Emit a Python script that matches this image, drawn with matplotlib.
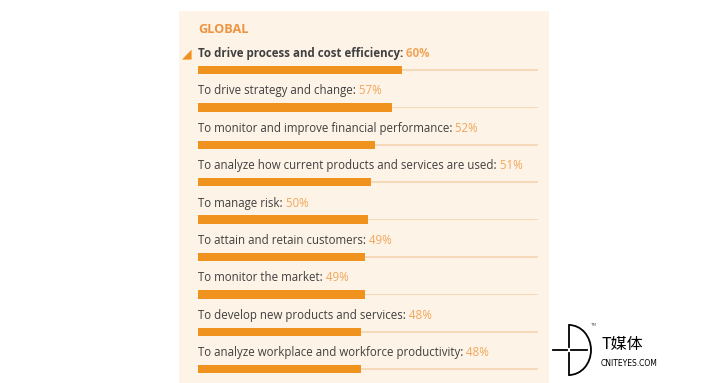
import matplotlib
matplotlib.use("Agg")
import matplotlib.pyplot as plt
from matplotlib.patches import Rectangle, Arc
from matplotlib.lines import Line2D

title = "GLOBAL"
categories = [
    "To drive process and cost efficiency:",
    "To drive strategy and change:",
    "To monitor and improve financial performance:",
    "To analyze how current products and services are used:",
    "To manage risk:",
    "To attain and retain customers:",
    "To monitor the market:",
    "To develop new products and services:",
    "To analyze workplace and workforce productivity:",
]
values = [60, 57, 52, 51, 50, 49, 49, 48, 48]

W, H = 702, 383
fig = plt.figure(figsize=(W / 100, H / 100), dpi=100)
fig.patch.set_facecolor("white")

ORANGE = "#F0921E"
PCT = "#F2A65A"
TRACK = "#F6D9B8"
PANEL = "#FDF3E7"
TEXT = "#404040"

# panel background
fig.add_artist(Rectangle((179 / W, 0), (549 - 179) / W, 1 - 11 / H,
                         transform=fig.transFigure, facecolor=PANEL,
                         edgecolor="none", zorder=0))

# axes: x 0..100 maps to pixel 198..538
top_px, bot_px = 11, 383
c0, step = 70, 37.4
ax = fig.add_axes([198 / W, 0, 340 / W, (bot_px - top_px) / H])
ax.set_xlim(0, 100)
ax.set_ylim((bot_px - c0) / step, (top_px - c0) / step)
ax.axis("off")
ax.patch.set_visible(False)

n = len(categories)
ys = list(range(n))
ax.barh(ys, [100] * n, height=0.045, color=TRACK, zorder=1)
ax.barh(ys, values, height=0.22, color=ORANGE, zorder=2)

fam = ["Open Sans", "DejaVu Sans"]
for i, (cat, v) in enumerate(zip(categories, values)):
    bold = i == 0
    t = ax.text(0, i - 0.44, cat, fontsize=8.3, family=fam,
                fontweight="bold" if bold else "normal", color=TEXT,
                ha="left", va="center")
    ax.annotate(f" {v}%", xy=(1, 0.5), xycoords=t, fontsize=8.3, family=fam,
                fontweight="bold" if bold else "normal", color=PCT,
                ha="left", va="center")

ax.text(0.2, (29 - c0) / step, title, fontsize=9.2, family=fam, fontweight="bold",
        color="#EE9440", ha="left", va="center")
ax.text(-3.2, -0.42, "◢", fontsize=9, family=["DejaVu Sans"], color=ORANGE,
        ha="center", va="center")

# watermark logo
def fx(px):
    return px / W

def fy(py):
    return 1 - py / H

fig.add_artist(Line2D([fx(569), fx(569)], [fy(325), fy(347)], transform=fig.transFigure, color="black", lw=1.3))
fig.add_artist(Line2D([fx(569), fx(569)], [fy(353), fy(375)], transform=fig.transFigure, color="black", lw=1.3))
fig.add_artist(Line2D([fx(553), fx(567)], [fy(350), fy(350)], transform=fig.transFigure, color="black", lw=1.3))
fig.add_artist(Line2D([fx(571), fx(587)], [fy(350), fy(350)], transform=fig.transFigure, color="black", lw=1.3))
fig.add_artist(Arc((fx(569), fy(350)), 2 * 22 / W, 2 * 25 / H, theta1=-90, theta2=90,
                   transform=fig.transFigure, color="black", lw=1.3))
fig.text(fx(590), fy(325), "TM", fontsize=3, color="#555555", ha="left", va="center")
fig.text(fx(601), fy(345), "T媒体", fontsize=11.5,
         family=["Noto Sans CJK SC", "DejaVu Sans"], color="black", ha="left", va="center")
fig.text(fx(601), fy(363), "CNITEYES.COM", fontsize=5.5, family=["DejaVu Sans"],
         color="black", ha="left", va="center")

fig.savefig("out.png", dpi=100, facecolor="white")
